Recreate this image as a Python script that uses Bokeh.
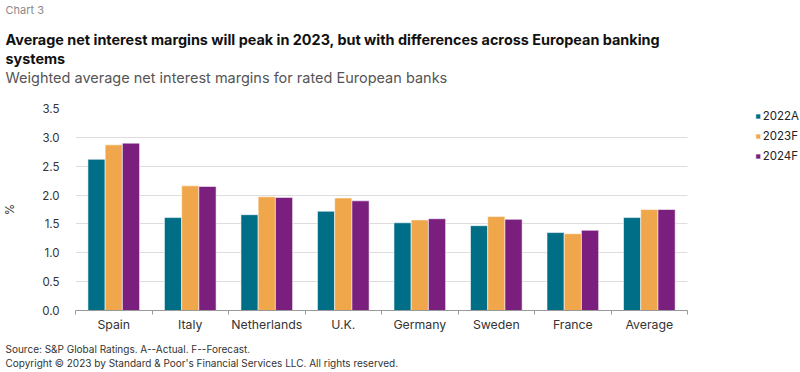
from bokeh.plotting import figure
from bokeh.models import (ColumnDataSource, Range1d, FixedTicker, Legend, LegendItem, Title)
from bokeh.embed import file_html
from bokeh.resources import INLINE

categories = ["Spain", "Italy", "Netherlands", "U.K.", "Germany", "Sweden", "France", "Average"]
series_names = ["2022A", "2023F", "2024F"]
v2022 = [2.62, 1.61, 1.66, 1.72, 1.52, 1.47, 1.35, 1.61]
v2023 = [2.87, 2.16, 1.97, 1.95, 1.57, 1.63, 1.33, 1.75]
v2024 = [2.90, 2.15, 1.96, 1.90, 1.59, 1.58, 1.39, 1.75]
y_ticks = [0.0, 0.5, 1.0, 1.5, 2.0, 2.5, 3.0, 3.5]

colors = ["#006E87", "#F0A74B", "#7A1F7E"]
FONT = "Inter"

W, H = 800, 372
LEFT = 68          # frame left (px)
BAR_AREA = 618     # px width occupied by the category bands
n = len(categories)
x_end = n * (W - LEFT) / BAR_AREA   # frame extends to the right edge to host the legend

p = figure(width=W, height=H, output_backend="svg", toolbar_location=None,
           x_range=Range1d(0, x_end), y_range=Range1d(0, 3.5),
           min_border_left=LEFT, min_border_right=0, min_border_top=108, min_border_bottom=62)
p.outline_line_color = None
p.background_fill_color = "white"
p.border_fill_color = "white"

centers = [i + 0.5 for i in range(n)]
offsets = [-0.225, 0.0, 0.225]
renderers = []
for vals, off, col in zip([v2022, v2023, v2024], offsets, colors):
    src = ColumnDataSource(dict(x=[c + off for c in centers], top=vals))
    r = p.vbar(x="x", top="top", bottom=0, width=0.225, source=src,
               fill_color=col, line_color="white", line_width=0.8, line_alpha=0.7)
    renderers.append(r)

xa = p.xaxis[0]
xa.bounds = (0, n)
xa.ticker = FixedTicker(ticks=centers, minor_ticks=list(range(n + 1)))
xa.major_label_overrides = {c: name for c, name in zip(centers, categories)}
xa.major_tick_out = 0
xa.major_tick_in = 0
xa.minor_tick_out = 4
xa.minor_tick_in = 0
xa.minor_tick_line_color = "#999999"
xa.axis_line_color = "#999999"
xa.major_label_text_font = FONT
xa.major_label_text_font_size = "12.3px"
xa.major_label_text_color = "#333333"
xa.major_label_standoff = 2

ya = p.yaxis[0]
ya.ticker = FixedTicker(ticks=y_ticks)
ya.major_label_overrides = {t: f"{t:.1f}" for t in y_ticks}
ya.axis_line_color = None
ya.major_tick_line_color = None
ya.minor_tick_line_color = None
ya.major_label_text_font = FONT
ya.major_label_text_font_size = "11.5px"
ya.major_label_text_color = "#333333"
ya.major_label_standoff = 10
ya.axis_label = "%"
ya.axis_label_text_font = FONT
ya.axis_label_text_font_size = "11.5px"
ya.axis_label_text_font_style = "normal"
ya.axis_label_text_color = "#333333"
ya.axis_label_standoff = 22

p.xgrid.grid_line_color = None
yg = p.ygrid[0]
yg.ticker = FixedTicker(ticks=y_ticks)
if "cross_bounds" in yg.properties():
    yg.grid_line_color = "#DDDDDD"
    yg.grid_line_width = 1
    yg.cross_bounds = (0, n)
else:
    yg.grid_line_color = None
    p.segment(x0=[0] * len(y_ticks), x1=[n] * len(y_ticks), y0=y_ticks, y1=y_ticks,
              line_color="#DDDDDD", line_width=1, level="underlay")

legend = Legend(items=[LegendItem(label=s, renderers=[r]) for s, r in zip(series_names, renderers)],
                location="top_right", orientation="vertical",
                glyph_width=6, glyph_height=6, label_standoff=2, spacing=6,
                label_height=14, padding=1, margin=1, border_line_color=None,
                background_fill_alpha=0, label_text_font=FONT, label_text_font_size="11.5px",
                label_text_color="#222222")
p.add_layout(legend, "center")

def title(text, size, color, style="normal", standoff=0, where="above"):
    t = Title(text=text, text_font=FONT, text_font_size=size, text_color=color,
              text_font_style=style, align="left", offset=-70, standoff=standoff)
    p.add_layout(t, where)

def spacer(standoff, where):
    p.add_layout(Title(text=" ", text_font_size="1px", standoff=standoff), where)

# above: nearest to plot first
spacer(20, "above")
title("Weighted average net interest margins for rated European banks", "14.5px", "#555555")
title("systems", "14.4px", "#111111", "bold")
title("Average net interest margins will peak in 2023, but with differences across European banking",
      "14.4px", "#111111", "bold")
spacer(8.9, "above")
title("Chart 3", "11px", "#8A8A8A")
# below: nearest to plot first
spacer(3.2, "below")
title("Source: S&P Global Ratings. A--Actual. F--Forecast.", "10px", "#333333", where="below")
title("Copyright \u00a9 2023 by Standard & Poor's Financial Services LLC. All rights reserved.",
      "10px", "#333333", where="below")

open("out.html", "w").write(file_html(p, INLINE))
